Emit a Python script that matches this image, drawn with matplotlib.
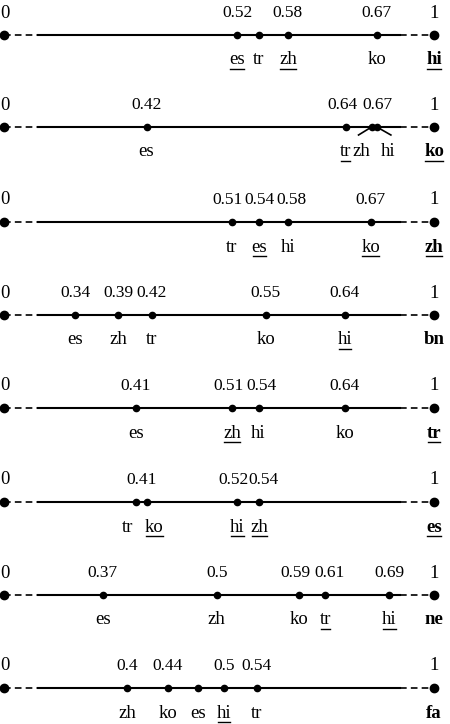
import numpy as np
import matplotlib
matplotlib.use("Agg")
import matplotlib.pyplot as plt

# ---- data ----
targets = ["hi", "ko", "zh", "bn", "tr", "es", "ne", "fa"]
target_underlined = [True, True, True, False, True, True, False, False]
langs = [
    ["es", "tr", "zh", "ko"],
    ["es", "tr", "zh", "hi"],
    ["tr", "es", "hi", "ko"],
    ["es", "zh", "tr", "ko", "hi"],
    ["es", "zh", "hi", "ko"],
    ["tr", "ko", "hi", "zh"],
    ["es", "zh", "ko", "tr", "hi"],
    ["zh", "ko", "es", "hi", "tr"],
]
values = [
    [0.519, 0.543, 0.576, 0.676],
    [0.417, 0.641, 0.670, 0.676],
    [0.513, 0.544, 0.576, 0.669],
    [0.337, 0.385, 0.423, 0.551, 0.640],
    [0.405, 0.513, 0.543, 0.640],
    [0.405, 0.417, 0.519, 0.544],
    [0.368, 0.496, 0.589, 0.618, 0.690],
    [0.395, 0.441, 0.475, 0.504, 0.541],
]
underlined = [
    ["es", "zh"], ["tr"], ["es", "ko"], ["hi"], ["zh"], ["ko", "hi", "zh"], ["tr", "hi"], ["hi"],
]
# value labels above: (text, index of dots it refers to)
top_labels = [
    [("0.52", [0]), ("0.58", [2]), ("0.67", [3])],
    [("0.42", [0]), ("0.64", [1]), ("0.67", [2, 3])],
    [("0.51", [0]), ("0.54", [1]), ("0.58", [2]), ("0.67", [3])],
    [("0.34", [0]), ("0.39", [1]), ("0.42", [2]), ("0.55", [3]), ("0.64", [4])],
    [("0.41", [0]), ("0.51", [1]), ("0.54", [2]), ("0.64", [3])],
    [("0.41", [0, 1]), ("0.52", [2]), ("0.54", [3])],
    [("0.37", [0]), ("0.5", [1]), ("0.59", [2]), ("0.61", [3]), ("0.69", [4])],
    [("0.4", [0]), ("0.44", [1]), ("0.5", [3]), ("0.54", [4])],
]

# ---- styling / layout ----
W, H = 450, 724
row_y = [35, 127, 222, 315, 408, 502, 595, 688]
# label pixel offsets for crowded labels
label_dx = {(1, "zh"): -10, (1, "hi"): 11, (5, "tr"): -8, (5, "ko"): 8}
top_dx = {(1, "0.64"): -3, (1, "0.67"): 3,
          (2, "0.51"): -4, (2, "0.58"): 4,
          (4, "0.51"): -3, (4, "0.54"): 3,
          (5, "0.52"): -4, (5, "0.54"): 4,
          (6, "0.59"): -4, (6, "0.61"): 4}

v_nodes = np.array([-0.2, 0.0, 0.295, 0.702, 1.0, 1.6])
p_nodes = np.array([-80, 4, 38, 400, 434, 500])
fwd = lambda v: np.interp(v, v_nodes, p_nodes)
inv = lambda p: np.interp(p, p_nodes, v_nodes)

plt.rcParams["font.family"] = ["Liberation Serif", "DejaVu Serif"]
fig = plt.figure(figsize=(W / 100, H / 100), dpi=100)
ax = fig.add_axes([0, 0, 1, 1])
ax.set_xscale("function", functions=(fwd, inv))
ax.set_xlim(float(inv(0)), float(inv(W)))
ax.set_ylim(H, 0)
ax.axis("off")

fs = 12.5
ul_texts = []
for r, tgt in enumerate(targets):
    y = row_y[r]
    ax.plot([0, 0.295], [y, y], color="k", lw=1.2, ls=(0, (4, 2.5)))
    ax.plot([0.702, 1], [y, y], color="k", lw=1.2, ls=(0, (4, 2.5)))
    ax.plot([0.295, 0.702], [y, y], color="k", lw=1.5)
    ax.plot([0, 1], [y, y], "o", color="k", ms=6, ls="none")
    ax.plot(values[r], [y] * len(values[r]), "o", color="k", ms=4.5, ls="none")
    ax.text(float(inv(0)), y - 22, "0", ha="left", va="center", fontsize=fs + 1)
    ax.text(1, y - 22, "1", ha="center", va="center", fontsize=fs + 1)
    for txt, idx in top_labels[r]:
        xv = float(np.mean([values[r][i] for i in idx]))
        px = fwd(xv) + top_dx.get((r, txt), 0)
        ax.text(float(inv(px)), y - 22, txt, ha="center", va="center", fontsize=fs)
    for lg, v in zip(langs[r], values[r]):
        dx = label_dx.get((r, lg), 0)
        px = fwd(v) + dx
        t = ax.text(float(inv(px)), y + 25, lg, ha="center", va="center", fontsize=fs + 1)
        if lg in underlined[r]:
            ul_texts.append((t, y))
        if dx and r == 1:
            ax.plot([v, float(inv(px + (-3 if dx < 0 else 3)))], [y, y + 8], color="k", lw=1.2)
    t = ax.text(1, y + 25, tgt, ha="center", va="center", fontsize=fs + 1, fontweight="bold")
    if target_underlined[r]:
        ul_texts.append((t, y))

fig.canvas.draw()
for t, y in ul_texts:
    bb = t.get_window_extent()
    x0, x1 = bb.x0 + 1, bb.x1 - 1
    fig.add_artist(plt.Line2D([x0 / W, x1 / W], [1 - (y + 34) / H] * 2,
                              color="k", lw=1.0, transform=fig.transFigure))

fig.savefig("out.png", dpi=100)
